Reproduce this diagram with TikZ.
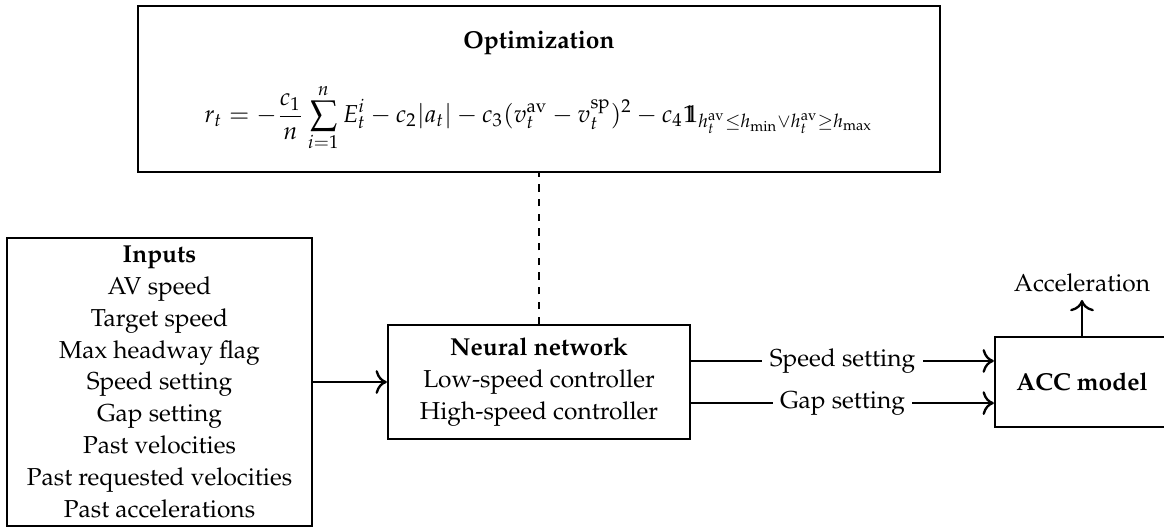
\documentclass[tikz,border=0pt]{standalone}
\usepackage[T1]{fontenc}
\usepackage{amsmath}
\usepackage{mathpazo}
\usetikzlibrary{arrows.meta}
\newcommand{\myind}{\mathrm{1}\mkern-6.8mu\mathrm{1}}
\begin{document}
\begin{tikzpicture}[x=0.408pt,y=-0.408pt,
  box/.style={draw,line width=0.95pt,align=center,inner sep=0pt,font=\fontsize{10}{13}\selectfont},
  txt/.style={align=center,inner sep=0pt,font=\fontsize{10}{13}\selectfont},
  conn/.style={line width=0.95pt,-{To[scale=1.25]}},
  lab/.style={fill=white,inner sep=3pt,font=\fontsize{10}{13}\selectfont}]
\useasboundingbox (0,0) rectangle (1164,527);
% Optimization box
\node[box,minimum width=327pt,minimum height=67.8pt] (opt) at (539,89) {};
\node[txt,font=\fontsize{10}{13}\selectfont\bfseries] (optTitle) at (539,43) {Optimization};
\node[txt] (optEq) at (539,118) {$\displaystyle r_t = -\frac{c_1}{n}\sum_{i=1}^{n} E_t^i - c_2|a_t| - c_3(v_t^{\mathrm{av}} - v_t^{\mathrm{sp}})^2 - c_4\myind_{h_t^{\mathrm{av}}\le h_{\min}\vee h_t^{\mathrm{av}}\ge h_{\max}}$};
% Inputs
\node[box,minimum width=124.4pt,minimum height=117.5pt] (inp) at (159.5,382)
  {\textbf{Inputs}\\AV speed\\Target speed\\Max headway flag\\Speed setting\\Gap setting\\Past velocities\\Past requested velocities\\Past accelerations};
% Neural network
\node[box,minimum width=123.2pt,minimum height=46.5pt] (nn) at (539,382)
  {\textbf{Neural network}\\Low-speed controller\\High-speed controller};
% ACC model
\node[box,minimum width=71pt,minimum height=36.7pt] (acc) at (1082,382) {\textbf{ACC model}};
\node[txt,inner sep=3pt] (accel) at (1082,283) {Acceleration};
% connectors
\draw[line width=0.95pt,dashed] (nn.north) -- (opt.south);
\draw[conn] (inp.east) -- (nn.west);
\draw[conn] ([yshift=8.6pt]nn.east) -- node[lab] (spd) {Speed setting} ([yshift=8.6pt]nn.east -| acc.west);
\draw[conn] ([yshift=-8.6pt]nn.east) -- node[lab] (gap) {Gap setting} ([yshift=-8.6pt]nn.east -| acc.west);
\draw[conn] (acc.north) -- (accel.south);
\end{tikzpicture}
\end{document}
